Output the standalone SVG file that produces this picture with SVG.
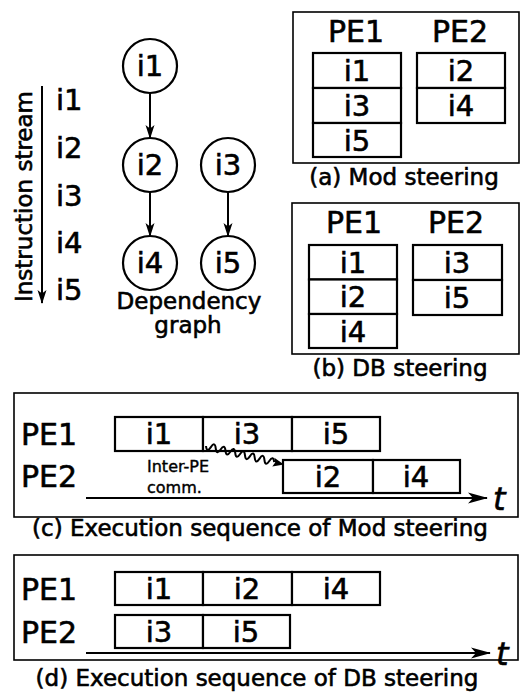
<svg xmlns="http://www.w3.org/2000/svg" width="521" height="695" viewBox="0 0 521 695">
  <style>
    text { font-family: "DejaVu Sans", "Liberation Sans", sans-serif; fill: #000; stroke: #000; stroke-width: 0.6; }
    .big { font-size: 30px; }
    .ins { font-size: 29px; }
    .cap { font-size: 23px; }
    .small { font-size: 16px; stroke-width: 0.4; }
    .mid { text-anchor: middle; }
    .panel { fill: #fff; stroke: #000; stroke-width: 1.6; }
    .cell { fill: #fff; stroke: #000; stroke-width: 2.2; }
    .node circle { fill: #fff; stroke: #000; stroke-width: 2.2; }
    .edge { fill: none; stroke: #000; stroke-width: 2; }
    .t { font-size: 32px; font-style: italic; }
  </style>
  <defs>
    <marker id="ah" markerUnits="userSpaceOnUse" markerWidth="16" markerHeight="12" refX="13" refY="6" orient="auto">
      <path d="M0,1.5 L14,6 L0,10.5 L3.5,6 Z" fill="#000"/>
    </marker>
    <marker id="ahLong" markerUnits="userSpaceOnUse" markerWidth="22" markerHeight="12" refX="19" refY="6" orient="auto">
      <path d="M0,0.5 L20,6 L0,11.5 L5,6 Z" fill="#000"/>
    </marker>
  </defs>

  <!-- instruction stream -->
  <g id="stream">
    <text class="cap" transform="translate(32,302) rotate(-90)" font-size="24">Instruction stream</text>
    <line class="edge" x1="42" y1="86" x2="42" y2="303" marker-end="url(#ah)"/>
    <text class="ins" x="56" y="110">i1</text>
    <text class="ins" x="56" y="158">i2</text>
    <text class="ins" x="56" y="206">i3</text>
    <text class="ins" x="56" y="253">i4</text>
    <text class="ins" x="56" y="300">i5</text>
  </g>

  <!-- dependency graph nodes -->
  <g id="n-i1" class="node"><circle cx="150" cy="66" r="27"/><text class="ins mid" x="150" y="76">i1</text></g>
  <g id="n-i2" class="node"><circle cx="150" cy="165" r="27"/><text class="ins mid" x="150" y="175">i2</text></g>
  <g id="n-i3" class="node"><circle cx="228" cy="165" r="27"/><text class="ins mid" x="228" y="175">i3</text></g>
  <g id="n-i4" class="node"><circle cx="150" cy="263" r="27"/><text class="ins mid" x="150" y="273">i4</text></g>
  <g id="n-i5" class="node"><circle cx="228" cy="263" r="27"/><text class="ins mid" x="228" y="273">i5</text></g>

  <g id="connectors">
    <line class="edge" x1="150" y1="93" x2="150" y2="138" marker-end="url(#ah)"/>
    <line class="edge" x1="150" y1="192" x2="150" y2="236" marker-end="url(#ah)"/>
    <line class="edge" x1="228" y1="192" x2="228" y2="236" marker-end="url(#ah)"/>
  </g>

  <g id="graph-label">
    <text class="cap mid" x="189" y="309">Dependency</text>
    <text class="cap mid" x="188" y="333">graph</text>
  </g>

  <!-- (a) Mod steering -->
  <g id="panel-a">
    <rect class="panel" x="293" y="12" width="226" height="151"/>
    <text class="big mid" x="356" y="42">PE1</text>
    <text class="big mid" x="460" y="42">PE2</text>
    <rect class="cell" x="313" y="53" width="88" height="35"/>
    <rect class="cell" x="313" y="88" width="88" height="35"/>
    <rect class="cell" x="313" y="123" width="88" height="34"/>
    <rect class="cell" x="417" y="53" width="88" height="35"/>
    <rect class="cell" x="417" y="88" width="88" height="35"/>
    <text class="ins mid" x="357" y="81">i1</text>
    <text class="ins mid" x="357" y="116">i3</text>
    <text class="ins mid" x="357" y="151">i5</text>
    <text class="ins mid" x="461" y="81">i2</text>
    <text class="ins mid" x="461" y="116">i4</text>
    <text class="cap mid" x="404" y="185">(a) Mod steering</text>
  </g>

  <!-- (b) DB steering -->
  <g id="panel-b">
    <rect class="panel" x="292" y="203" width="227" height="151"/>
    <text class="big mid" x="354" y="233">PE1</text>
    <text class="big mid" x="456" y="233">PE2</text>
    <rect class="cell" x="309" y="245" width="88" height="34.5"/>
    <rect class="cell" x="309" y="279.5" width="88" height="34.5"/>
    <rect class="cell" x="309" y="314" width="88" height="34"/>
    <rect class="cell" x="413" y="245" width="89" height="35"/>
    <rect class="cell" x="413" y="280" width="89" height="35"/>
    <text class="ins mid" x="353" y="273">i1</text>
    <text class="ins mid" x="353" y="307">i2</text>
    <text class="ins mid" x="353" y="342">i4</text>
    <text class="ins mid" x="457" y="273">i3</text>
    <text class="ins mid" x="457" y="308">i5</text>
    <text class="cap mid" x="400" y="376">(b) DB steering</text>
  </g>

  <!-- (c) execution sequence, Mod steering -->
  <g id="panel-c">
    <rect class="panel" x="14" y="393" width="504" height="124"/>
    <text class="big" x="21" y="445">PE1</text>
    <text class="big" x="21" y="487">PE2</text>
    <rect class="cell" x="115" y="417" width="88" height="34"/>
    <rect class="cell" x="203" y="417" width="89" height="34"/>
    <rect class="cell" x="292" y="417" width="88" height="34"/>
    <rect class="cell" x="283" y="460" width="90" height="33"/>
    <rect class="cell" x="373" y="460" width="87" height="33"/>
    <text class="ins mid" x="159" y="444">i1</text>
    <text class="ins mid" x="247" y="444">i3</text>
    <text class="ins mid" x="336" y="444">i5</text>
    <text class="ins mid" x="328" y="487">i2</text>
    <text class="ins mid" x="416" y="487">i4</text>
    <!-- wavy inter-PE communication arrow -->
    <path class="edge" stroke-width="2" d="M206,446 q0.8,7.3 4.87,1.15 t4.87,1.15 t4.87,1.15 t4.87,1.15 t4.87,1.15 t4.87,1.15 t4.87,1.15 t4.87,1.15 t4.87,1.15 t4.87,1.15 t4.87,1.15 t4.87,1.15 t4.87,1.15 t4.87,1.15"/>
    <path d="M284,464.5 L272.3,466.6 L275.2,462.6 L274.3,457.8 Z" fill="#000"/>
    <text class="small" x="147" y="472">Inter-PE</text>
    <text class="small" x="147" y="493">comm.</text>
    <line class="edge" x1="86" y1="498" x2="487" y2="498" marker-end="url(#ahLong)"/>
    <text class="t" x="493" y="510">t</text>
    <text class="cap mid" x="260" y="536">(c) Execution sequence of Mod steering</text>
  </g>

  <!-- (d) execution sequence, DB steering -->
  <g id="panel-d">
    <rect class="panel" x="14" y="555" width="504" height="105"/>
    <text class="big" x="21" y="600">PE1</text>
    <text class="big" x="21" y="643">PE2</text>
    <rect class="cell" x="115" y="572" width="88" height="33"/>
    <rect class="cell" x="203" y="572" width="89" height="33"/>
    <rect class="cell" x="292" y="572" width="88" height="33"/>
    <rect class="cell" x="115" y="615" width="88" height="33"/>
    <rect class="cell" x="203" y="615" width="87" height="33"/>
    <text class="ins mid" x="159" y="599">i1</text>
    <text class="ins mid" x="247" y="599">i2</text>
    <text class="ins mid" x="336" y="599">i4</text>
    <text class="ins mid" x="159" y="642">i3</text>
    <text class="ins mid" x="246" y="642">i5</text>
    <line class="edge" x1="86" y1="653" x2="490" y2="653" marker-end="url(#ahLong)"/>
    <text class="t" x="496" y="665">t</text>
    <text class="cap mid" x="257" y="686">(d) Execution sequence of DB steering</text>
  </g>
</svg>
